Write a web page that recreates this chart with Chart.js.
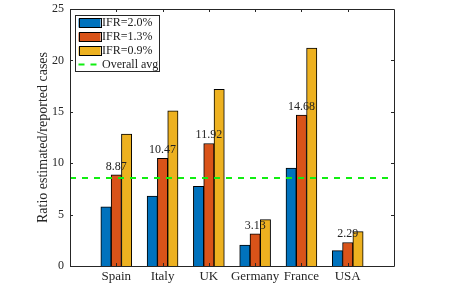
<!DOCTYPE html>
<html>
<head>
<meta charset="utf-8">
<script src="https://cdn.jsdelivr.net/npm/chart.js@4/dist/chart.umd.min.js"></script>
<style>
html,body{margin:0;padding:0;background:#fff;}
#wrap{width:462px;height:298px;}
</style>
</head>
<body>
<div id="wrap"><canvas id="c" width="462" height="298"></canvas></div>
<script>
const countries = ['Spain', 'Italy', 'UK', 'Germany', 'France', 'USA'];
const ifr20 = [5.76, 6.81, 7.75, 2.04, 9.53, 1.50];
const ifr13 = [8.87, 10.47, 11.92, 3.13, 14.68, 2.29];
const ifr09 = [12.84, 15.10, 17.19, 4.51, 21.20, 3.35];
const overallAvg = 8.56;
const yTicks = [0, 5, 10, 15, 20, 25];
const seriesNames = ['IFR=2.0%', 'IFR=1.3%', 'IFR=0.9%', 'Overall avg'];
const colors = ['#0072BD', '#D95319', '#EDB120'];
const avgColor = '#11ee11';

const labels = [''].concat(countries, ['']);
const pad = arr => [null].concat(arr, [null]);
const SERIF = '"Liberation Serif", "Times New Roman", serif';
const AX = '#262626';

const framePlugin = {
  id: 'frame',
  afterDraw(chart) {
    const ctx = chart.ctx, a = chart.chartArea;
    const xs = chart.scales.x, ys = chart.scales.y;
    ctx.save();
    ctx.strokeStyle = AX;
    ctx.lineWidth = 1;
    ctx.beginPath();
    ctx.rect(Math.round(a.left) + 0.5, Math.round(a.top) + 0.5, Math.round(a.right - a.left), Math.round(a.bottom - a.top));
    ctx.stroke();
    const tl = 3;
    ctx.beginPath();
    for (let i = 1; i <= countries.length; i++) {
      const x = Math.round(xs.getPixelForValue(i)) + 0.5;
      ctx.moveTo(x, a.bottom); ctx.lineTo(x, a.bottom - tl);
      ctx.moveTo(x, a.top); ctx.lineTo(x, a.top + tl);
    }
    yTicks.forEach(v => {
      const y = Math.round(ys.getPixelForValue(v)) + 0.5;
      ctx.moveTo(a.left, y); ctx.lineTo(a.left + tl, y);
      ctx.moveTo(a.right, y); ctx.lineTo(a.right - tl, y);
    });
    ctx.stroke();

    // value labels over middle series
    const meta = chart.getDatasetMeta(1);
    ctx.fillStyle = '#222';
    ctx.font = '12px ' + SERIF;
    ctx.textAlign = 'center';
    ctx.textBaseline = 'alphabetic';
    ifr13.forEach((v, i) => {
      const el = meta.data[i + 1];
      ctx.fillText(v.toFixed(2), el.x, el.y - 5);
    });

    // legend
    const lx = a.left + 5, ly = a.top + 6, lw = 84, lh = 56;
    ctx.fillStyle = '#fff';
    ctx.fillRect(lx, ly, lw, lh);
    ctx.strokeStyle = AX;
    ctx.strokeRect(Math.round(lx) + 0.5, Math.round(ly) + 0.5, lw, lh);
    ctx.font = '12px ' + SERIF;
    ctx.textAlign = 'left';
    ctx.textBaseline = 'middle';
    for (let k = 0; k < 4; k++) {
      const cy = ly + 7.5 + k * 14;
      const sx = lx + 3.5;
      if (k < 3) {
        ctx.fillStyle = colors[k];
        ctx.fillRect(sx, Math.round(cy - 4.5) + 0.5, 22, 9);
        ctx.strokeStyle = '#000';
        ctx.strokeRect(Math.round(sx) + 0.5, Math.round(cy - 4.5) + 0.5, 22, 9);
      } else {
        ctx.strokeStyle = avgColor;
        ctx.lineWidth = 2;
        ctx.setLineDash([6, 6]);
        ctx.beginPath();
        ctx.moveTo(sx, cy); ctx.lineTo(sx + 22, cy);
        ctx.stroke();
        ctx.setLineDash([]);
        ctx.lineWidth = 1;
      }
      ctx.fillStyle = '#222';
      ctx.fillText(seriesNames[k], lx + 27, cy + 0.5);
    }
    ctx.restore();
  }
};

const barDs = (name, data, color) => ({
  type: 'bar', label: name, data: pad(data),
  backgroundColor: color, borderColor: '#000', borderWidth: 1,
  barThickness: 10.3, order: 2
});

new Chart(document.getElementById('c'), {
  data: {
    labels,
    datasets: [
      barDs(seriesNames[0], ifr20, colors[0]),
      barDs(seriesNames[1], ifr13, colors[1]),
      barDs(seriesNames[2], ifr09, colors[2]),
      {
        type: 'line', label: seriesNames[3], data: labels.map(() => overallAvg),
        borderColor: avgColor, borderWidth: 2, borderDash: [6, 6],
        pointRadius: 0, fill: false, order: 0
      }
    ]
  },
  options: {
    responsive: false,
    animation: false,
    devicePixelRatio: 1,
    layout: { padding: { left: 31, right: 68, top: 9, bottom: 0 } },
    plugins: { legend: { display: false }, tooltip: { enabled: false } },
    scales: {
      x: {
        type: 'category', offset: false,
        grid: { display: false, drawTicks: false },
        border: { display: false },
        ticks: { color: '#262626', font: { family: SERIF, size: 13 }, padding: 3, autoSkip: false, maxRotation: 0 },
        afterFit(s) { s.height = 32; s.paddingLeft = 0; s.paddingRight = 0; }
      },
      y: {
        min: 0, max: 25,
        afterBuildTicks(s) { s.ticks = yTicks.map(v => ({ value: v })); },
        grid: { display: false, drawTicks: false },
        border: { display: false },
        ticks: { color: '#262626', font: { family: SERIF, size: 12 }, padding: 6 },
        title: { display: true, text: 'Ratio estimated/reported cases', color: '#262626', font: { family: SERIF, size: 14 }, padding: { top: 4, bottom: 4 } },
        afterFit(s) { s.width = 39; s.paddingTop = 0; s.paddingBottom = 0; }
      }
    }
  },
  plugins: [framePlugin]
});
</script>
</body>
</html>
